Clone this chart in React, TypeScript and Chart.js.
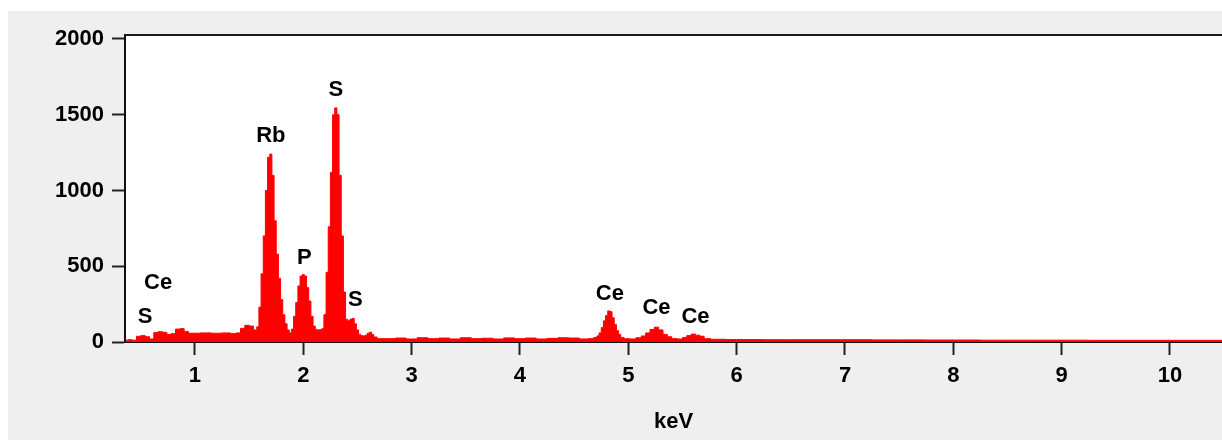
import React, { useEffect, useRef } from "react";
import { Chart, registerables } from "chart.js";

Chart.register(...registerables);

// Spectrum (keV, counts)
const energies = [
  0.36, 0.40, 0.44, 0.48, 0.52, 0.56, 0.60, 0.64, 0.68, 0.72, 0.76, 0.80, 0.84, 0.88, 0.92, 0.96,
  1.00, 1.10, 1.20, 1.30, 1.36, 1.40, 1.44, 1.48, 1.52, 1.56, 1.58,
  1.60, 1.62, 1.64, 1.66, 1.68, 1.70, 1.72, 1.74, 1.76, 1.78, 1.80, 1.82, 1.84, 1.86, 1.88, 1.90, 1.92,
  1.94, 1.96, 1.98, 2.00, 2.02, 2.04, 2.06, 2.08, 2.10, 2.12, 2.14, 2.16, 2.18, 2.20,
  2.22, 2.24, 2.26, 2.28, 2.30, 2.32, 2.34, 2.36, 2.38, 2.40, 2.42, 2.44, 2.46, 2.48, 2.50,
  2.52, 2.54, 2.56, 2.58, 2.60, 2.62, 2.64, 2.66, 2.70,
  2.80, 2.90, 3.00, 3.10, 3.20, 3.30, 3.40, 3.50, 3.60, 3.70, 3.80, 3.90, 4.00, 4.10, 4.20,
  4.30, 4.40, 4.50, 4.60, 4.66, 4.70,
  4.72, 4.74, 4.76, 4.78, 4.80, 4.82, 4.84, 4.86, 4.88, 4.90, 4.92, 4.94, 4.98, 5.04,
  5.10, 5.14, 5.18, 5.22, 5.26, 5.30, 5.34, 5.38, 5.42, 5.48,
  5.52, 5.56, 5.60, 5.64, 5.68, 5.72, 5.80, 6.00, 6.50, 7.00, 7.50, 8.00, 8.50, 9.00, 9.50, 10.00, 10.48,
];
const counts = [
  12, 15, 12, 38, 42, 35, 20, 62, 68, 64, 50, 55, 85, 88, 70, 58,
  58, 60, 58, 60, 55, 60, 90, 110, 105, 80, 100,
  230, 450, 700, 1000, 1220, 1240, 1100, 800, 580, 420, 280, 180, 120, 80, 60, 85, 170,
  260, 370, 435, 445, 435, 360, 270, 170, 105, 82, 80, 82, 88, 180,
  460, 760, 1120, 1500, 1545, 1500, 1100, 700, 330, 150, 140, 150, 155, 120, 80,
  50, 42, 40, 45, 58, 65, 50, 33, 22,
  22, 26, 20, 28, 22, 26, 20, 28, 22, 25, 20, 27, 22, 26, 20,
  24, 28, 26, 20, 22, 30,
  40, 60, 95, 140, 175, 205, 200, 160, 115, 75, 50, 30, 22, 20,
  28, 40, 60, 82, 98, 80, 50, 35, 22, 20,
  30, 42, 52, 45, 38, 22, 18, 16, 15, 15, 14, 13, 12, 12, 11, 11, 11,
];

const xTickValues = [1, 2, 3, 4, 5, 6, 7, 8, 9, 10];
const yTickValues = [0, 500, 1000, 1500, 2000];

// Peak labels (text, keV, counts at label centre)
const peakLabels = ["S", "Ce", "Rb", "P", "S", "S", "Ce", "Ce", "Ce"];
const peakLabelEnergies = [0.54, 0.66, 1.70, 2.01, 2.30, 2.48, 4.83, 5.26, 5.62];
const peakLabelCounts = [165, 390, 1357, 556, 1662, 278, 318, 225, 165];

const xAxisTitle = "keV";
const FONT = "'Liberation Sans', Arial, sans-serif";

export default function App() {
  const canvasRef = useRef<HTMLCanvasElement | null>(null);

  useEffect(() => {
    const canvas = canvasRef.current;
    if (!canvas) return;

    const backgroundPlugin = {
      id: "bgPanel",
      beforeDraw(chart: any) {
        const { ctx, width, height, chartArea } = chart;
        ctx.save();
        ctx.fillStyle = "#ffffff";
        ctx.fillRect(0, 0, width, height);
        ctx.fillStyle = "#efefef";
        ctx.fillRect(8, 11, width - 8, height - 11);
        ctx.fillStyle = "#ffffff";
        ctx.fillRect(chartArea.left, chartArea.top, chartArea.right - chartArea.left, chartArea.bottom - chartArea.top);
        ctx.restore();
      },
      afterDraw(chart: any) {
        const { ctx, chartArea } = chart;
        ctx.save();
        ctx.strokeStyle = "#1a1a1a";
        ctx.lineWidth = 2;
        ctx.beginPath();
        ctx.moveTo(chartArea.left, chartArea.top);
        ctx.lineTo(chartArea.right, chartArea.top);
        ctx.stroke();
        ctx.restore();
      },
    };

    const labelPlugin = {
      id: "peakLabels",
      afterDatasetsDraw(chart: any) {
        const { ctx } = chart;
        const xs = chart.scales.x;
        const ys = chart.scales.y;
        ctx.save();
        ctx.fillStyle = "#000000";
        ctx.font = `bold 22px ${FONT}`;
        ctx.textAlign = "center";
        ctx.textBaseline = "middle";
        peakLabels.forEach((t, i) => {
          ctx.fillText(t, xs.getPixelForValue(peakLabelEnergies[i]), ys.getPixelForValue(peakLabelCounts[i]));
        });
        ctx.restore();
      },
    };

    const chart = new Chart(canvas, {
      type: "line",
      data: {
        datasets: [
          {
            data: energies.map((e, i) => ({ x: e, y: counts[i] })),
            borderColor: "#ff0000",
            backgroundColor: "#ff0000",
            borderWidth: 1,
            pointRadius: 0,
            stepped: "middle",
            fill: "origin",
          },
        ],
      },
      options: {
        animation: false,
        responsive: false,
        devicePixelRatio: 1,
        layout: { padding: { top: 35, left: 0, right: 0, bottom: 0 } },
        plugins: { legend: { display: false }, tooltip: { enabled: false } },
        scales: {
          x: {
            type: "linear",
            min: 0.354,
            max: 10.48,
            afterFit: (s: any) => {
              s.height = 98;
            },
            afterBuildTicks: (s: any) => {
              s.ticks = xTickValues.map((v) => ({ value: v }));
            },
            grid: { drawOnChartArea: false, drawTicks: true, tickLength: 13, tickColor: "#222", tickWidth: 2 },
            border: { display: true, color: "#111", width: 2 },
            ticks: {
              color: "#000",
              padding: 8,
              maxRotation: 0,
              autoSkip: false,
              font: { family: FONT, size: 22, weight: "bold" },
              callback: (v: any) => String(v),
            },
            title: {
              display: true,
              text: xAxisTitle,
              color: "#000",
              font: { family: FONT, size: 22, weight: "bold" },
              padding: { top: 0, bottom: 5 },
            },
          },
          y: {
            type: "linear",
            min: 0,
            max: 2026,
            afterFit: (s: any) => {
              s.width = 125;
            },
            afterBuildTicks: (s: any) => {
              s.ticks = yTickValues.map((v) => ({ value: v }));
            },
            grid: { drawOnChartArea: false, drawTicks: true, tickLength: 13, tickColor: "#222", tickWidth: 2 },
            border: { display: true, color: "#111", width: 2 },
            ticks: {
              color: "#000",
              padding: 8,
              autoSkip: false,
              font: { family: FONT, size: 22, weight: "bold" },
              callback: (v: any) => String(v),
            },
          },
        },
      },
      plugins: [backgroundPlugin, labelPlugin],
    } as any);

    return () => chart.destroy();
  }, []);

  return (
    <div style={{ position: "absolute", left: 0, top: 0, width: 1222, height: 440 }}>
      <canvas ref={canvasRef} width={1222} height={440} style={{ display: "block" }} />
    </div>
  );
}
